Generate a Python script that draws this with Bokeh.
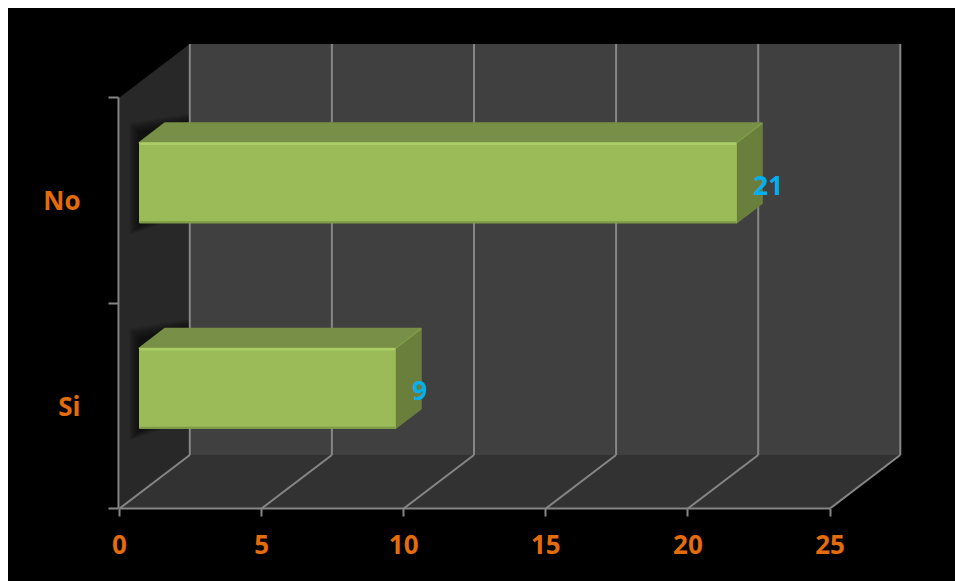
from bokeh.plotting import figure
from bokeh.models import Range1d, FixedTicker, ColumnDataSource
from bokeh.core.properties import value
from bokeh.embed import file_html
from bokeh.resources import INLINE

# ---- data
categories = ["Si", "No"]
counts = [9, 21]
x_ticks = [0, 5, 10, 15, 20, 25]

# ---- 3D projection, in axis units
UX = 28.42          # px per value unit
UY = 205.5          # px per category unit
WALL_DX = 70.3 / UX
WALL_DY = 53.5 / UY
BAR_X0 = 20 / UX
BAR_LIFT = 17.5 / UY
BAR_H = 80 / UY
BAR_DX = 25.5 / UX
BAR_DY = 19.5 / UY
X_MAX = 25
Y_MAX = 2

ORANGE = "#E46C0A"
BLUE = "#00B0F0"
GRID = "#868686"
FONT = "Open Sans"

p = figure(width=947, height=573, output_backend="svg", toolbar_location=None,
           x_range=Range1d(-1 / UX, (903 - 119) / UX),
           y_range=Range1d(0, 465 / UY),
           min_border_left=110, min_border_right=52, min_border_top=35, min_border_bottom=73,
           background_fill_color=None, border_fill_color="#000000",
           outline_line_color=None, x_axis_location="below", y_axis_location="left")
p.styles = {"margin-left": "8px", "margin-top": "8px", "background-color": "#000000"}
p.grid.visible = False

# x axis
xa = p.xaxis[0]
xa.ticker = FixedTicker(ticks=x_ticks)
xa.bounds = (0, X_MAX)
xa.axis_line_color = GRID
xa.axis_line_width = 2
xa.major_tick_line_color = GRID
xa.major_tick_line_width = 2
xa.major_tick_in = 0
xa.major_tick_out = 8
xa.minor_tick_line_color = None
xa.major_label_text_color = ORANGE
xa.major_label_text_font = FONT
xa.major_label_text_font_style = "bold"
xa.major_label_text_font_size = "26px"
xa.major_label_standoff = 18

# y axis: boundaries carry the ticks, category centres the labels
ya = p.yaxis[0]
centers = [i + 0.5 for i in range(len(categories))]
ya.ticker = FixedTicker(ticks=centers, minor_ticks=list(range(len(categories) + 1)))
ya.major_label_overrides = {c: n for c, n in zip(centers, categories)}
ya.bounds = (0, Y_MAX)
ya.axis_line_color = GRID
ya.axis_line_width = 2
ya.major_tick_line_color = None
ya.major_tick_in = 0
ya.major_tick_out = 0
ya.minor_tick_line_color = GRID
ya.minor_tick_line_width = 2
ya.minor_tick_in = 0
ya.minor_tick_out = 10
ya.major_label_text_color = ORANGE
ya.major_label_text_font = FONT
ya.major_label_text_font_style = "bold"
ya.major_label_text_font_size = "26px"
ya.major_label_standoff = 28

# side wall
p.patch([0, WALL_DX, WALL_DX, 0], [0, WALL_DY, Y_MAX + WALL_DY, Y_MAX],
        fill_color="#282828", line_color=None)

# soft shadows of the bars on the side wall
for c in centers:
    low = c + BAR_LIFT - BAR_H / 2
    for k in [10, 9, 8, 7, 6, 5, 4, 3, 2, 1]:
        p.patch([BAR_X0 - k / UX, WALL_DX, WALL_DX, BAR_X0 - k / UX],
                [low - (k + 2) / UY, low - (k + 2) / UY + BAR_DY,
                 low + BAR_H + BAR_DY + k / UY, low + BAR_H + BAR_DY * .5 + k / UY],
                fill_color="#000000", fill_alpha=0.07, line_color=None)

# back wall and floor
p.patch([WALL_DX, X_MAX + WALL_DX, X_MAX + WALL_DX, WALL_DX],
        [WALL_DY, WALL_DY, Y_MAX + WALL_DY, Y_MAX + WALL_DY],
        fill_color="#404040", line_color=None)
p.patch([0, X_MAX, X_MAX + WALL_DX, WALL_DX], [0, 0, WALL_DY, WALL_DY],
        fill_color="#323232", line_color=None)

# grid: back wall verticals, floor diagonals
p.segment(x0=[t + WALL_DX for t in x_ticks], y0=[WALL_DY] * len(x_ticks),
          x1=[t + WALL_DX for t in x_ticks], y1=[Y_MAX + WALL_DY] * len(x_ticks),
          line_color=GRID, line_width=2)
p.segment(x0=x_ticks, y0=[0] * len(x_ticks),
          x1=[t + WALL_DX for t in x_ticks], y1=[WALL_DY] * len(x_ticks),
          line_color=GRID, line_width=2)

# bars: top, side, front
for c, v in zip(centers, counts):
    y0 = c + BAR_LIFT - BAR_H / 2
    y1 = y0 + BAR_H
    x0 = BAR_X0
    x1 = BAR_X0 + v
    p.patch([x0, x1, x1 + BAR_DX, x0 + BAR_DX], [y1, y1, y1 + BAR_DY, y1 + BAR_DY],
            fill_color="#788F47", line_color="#788F47", line_width=2, line_join="round")
    p.patch([x1, x1 + BAR_DX, x1 + BAR_DX, x1], [y0, y0 + BAR_DY, y1 + BAR_DY, y1],
            fill_color="#6A7F3B", line_color="#6A7F3B", line_width=2, line_join="round")
    p.line([x1, x1 + BAR_DX], [y1, y1 + BAR_DY], line_color="#7F9A49", line_width=2)
    p.patch([x0, x1, x1, x0], [y0, y0, y1, y1],
            fill_color="#9BBB59", line_color="#9BBB59", line_width=1, line_join="round")
    p.line([x0, x1], [y1 - 1 / UY, y1 - 1 / UY], line_color="#AACD66", line_width=2.5)
    p.line([x0, x1], [y0 + 0.5 / UY, y0 + 0.5 / UY], line_color="#7E9A47", line_width=2)

# data labels
src = ColumnDataSource(dict(x=[v + 37 / UX for v in counts],
                            y=[c + 15 / UY for c in centers],
                            t=[str(v) for v in counts]))
p.text(x="x", y="y", text="t", source=src, text_color=BLUE, text_font=value(FONT),
       text_font_style="bold", text_font_size="26px", text_align="left",
       text_baseline="middle")

open("out.html", "w").write(file_html(p, INLINE))
